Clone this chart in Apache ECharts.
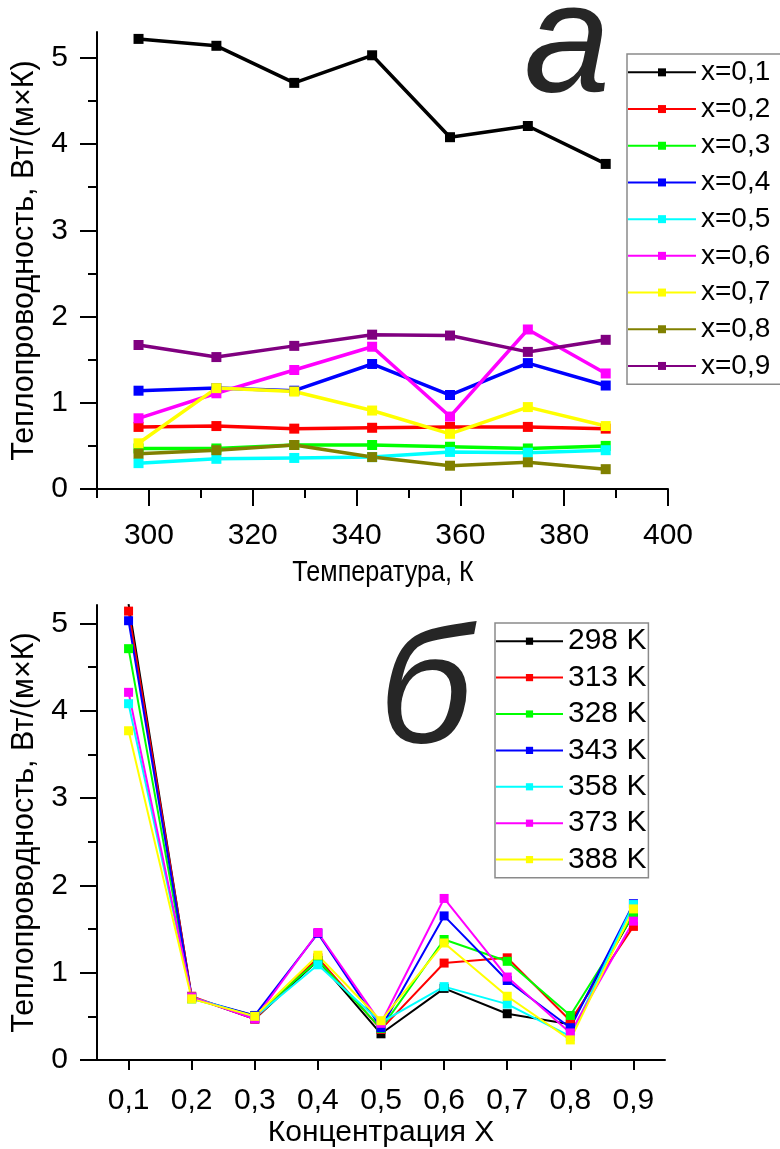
<!DOCTYPE html>
<html>
<head>
<meta charset="utf-8">
<script src="https://cdn.jsdelivr.net/npm/echarts@6/dist/echarts.min.js"></script>
<style>
  html, body { margin: 0; padding: 0; background: #fff; }
  #chart { width: 780px; height: 1149px; }
</style>
</head>
<body>
<div id="chart"></div>
<script>
// Measurement temperatures, K
const temps = [298, 313, 328, 343, 358, 373, 388];
// Concentration labels for the lower panel
const concLabels = ['0,1', '0,2', '0,3', '0,4', '0,5', '0,6', '0,7', '0,8', '0,9'];
// Thermal conductivity, W/(m·K), one array per concentration x (values at each temperature)
const k01 = [5.22, 5.14, 4.71, 5.03, 4.08, 4.21, 3.77];
const k02 = [0.72, 0.73, 0.70, 0.71, 0.72, 0.72, 0.70];
const k03 = [0.47, 0.47, 0.51, 0.51, 0.49, 0.47, 0.50];
const k04 = [1.14, 1.17, 1.14, 1.45, 1.09, 1.46, 1.20];
const k05 = [0.30, 0.35, 0.36, 0.37, 0.43, 0.42, 0.45];
const k06 = [0.82, 1.11, 1.38, 1.65, 0.84, 1.85, 1.34];
const k07 = [0.53, 1.17, 1.13, 0.91, 0.64, 0.95, 0.73];
const k08 = [0.41, 0.45, 0.51, 0.37, 0.27, 0.31, 0.23];
const k09 = [1.67, 1.53, 1.66, 1.79, 1.78, 1.59, 1.73];
// Axis tick values
const tempMajor = [300, 320, 340, 360, 380, 400];
const tempMinor = [290, 310, 330, 350, 370, 390];
const kMajor = [0, 1, 2, 3, 4, 5];
const kMinor = [0.5, 1.5, 2.5, 3.5, 4.5];

const concSeries = [k01, k02, k03, k04, k05, k06, k07, k08, k09];
const colors = ['#000000', '#ff0000', '#00ff00', '#0000ff', '#00ffff', '#ff00ff', '#ffff00', '#808000', '#800080'];

const FONT = 'Liberation Sans, Arial, sans-serif';

const chart = echarts.init(document.getElementById('chart'), null, { renderer: 'canvas' });

const axisLine = { show: true, lineStyle: { color: '#000', width: 2 } };

function majorValueAxis(gridIndex, min, max, majors, extra) {
  return Object.assign({
    type: 'value', gridIndex, min, max,
    axisLine,
    splitLine: { show: false },
    axisTick: { show: true, inside: false, length: 17, lineStyle: { color: '#000', width: 2 }, customValues: majors },
    axisLabel: { show: true, customValues: majors, color: '#000', fontSize: 30, fontFamily: FONT }
  }, extra);
}
function minorValueAxis(gridIndex, min, max, minors, extra) {
  return Object.assign({
    type: 'value', gridIndex, min, max,
    axisLine: { show: false },
    splitLine: { show: false },
    axisTick: { show: true, inside: false, length: 9, lineStyle: { color: '#000', width: 2 }, customValues: minors },
    axisLabel: { show: false }
  }, extra);
}

const series = [];
concSeries.forEach((arr, i) => {
  series.push({
    name: 'x=' + concLabels[i],
    type: 'line',
    xAxisIndex: 0, yAxisIndex: 0,
    data: temps.map((t, j) => [t, arr[j]]),
    symbol: 'rect', symbolSize: 10,
    lineStyle: { color: colors[i], width: 3.5 },
    itemStyle: { color: colors[i] },
    animation: false
  });
});
temps.forEach((t, j) => {
  series.push({
    name: t + ' K',
    type: 'line',
    xAxisIndex: 2, yAxisIndex: 2,
    data: concSeries.map(arr => arr[j]),
    symbol: 'rect', symbolSize: 9,
    lineStyle: { color: colors[j], width: 2 },
    itemStyle: { color: colors[j] },
    animation: false
  });
});

const yName = 'Теплопроводность, Вт/(м×К)';

const option = {
  backgroundColor: '#fff',
  animation: false,
  grid: [
    { left: 97, top: 32, width: 571, height: 457 },
    { left: 97, top: 605, width: 568, height: 457 }
  ],
  xAxis: [
    majorValueAxis(0, 290, 400, tempMajor, {
      position: 'bottom',
      axisLabel: { show: true, customValues: tempMajor, color: '#000', fontSize: 30, fontFamily: FONT, margin: 32 }
    }),
    minorValueAxis(0, 290, 400, tempMinor, { position: 'bottom' }),
    {
      type: 'category', gridIndex: 1, data: concLabels, boundaryGap: true,
      position: 'bottom',
      axisLine,
      axisTick: { show: true, alignWithLabel: true, length: 10, lineStyle: { color: '#000', width: 2 } },
      axisLabel: { color: '#000', fontSize: 30, fontFamily: FONT, margin: 26 },
      splitLine: { show: false },
      name: 'Концентрация Х', nameLocation: 'middle', nameGap: 58,
      nameTextStyle: { color: '#000', fontSize: 30, fontFamily: FONT }
    }
  ],
  yAxis: [
    majorValueAxis(0, 0, 5.3, kMajor, {
      position: 'left',
      name: yName, nameLocation: 'middle', nameGap: 52,
      nameTextStyle: { color: '#000', fontSize: 30.5, fontFamily: FONT },
      axisLabel: { show: true, customValues: kMajor, color: '#000', fontSize: 30, fontFamily: FONT, margin: 29 }
    }),
    minorValueAxis(0, 0, 5.3, kMinor, { position: 'left' }),
    majorValueAxis(1, 0, 5.21, kMajor, {
      position: 'left',
      name: yName, nameLocation: 'middle', nameGap: 52,
      nameTextStyle: { color: '#000', fontSize: 30.5, fontFamily: FONT },
      axisLabel: { show: true, customValues: kMajor, color: '#000', fontSize: 30, fontFamily: FONT, margin: 29 }
    }),
    minorValueAxis(1, 0, 5.21, kMinor, { position: 'left' })
  ],
  legend: [
    {
      data: concLabels.map(c => 'x=' + c),
      orient: 'vertical', left: 627, top: 54,
      itemWidth: 68, itemHeight: 10, itemGap: 0,
      padding: [0, 60, 0, 0],
      borderColor: '#8a8a8a', borderWidth: 1.5,
      textStyle: { color: '#000', fontSize: 28, fontFamily: FONT, lineHeight: 36.7 }
    },
    {
      data: temps.map(t => t + ' K'),
      orient: 'vertical', left: 495, top: 623,
      itemWidth: 67, itemHeight: 9, itemGap: 0,
      padding: [0, 2, 0, 0],
      borderColor: '#8a8a8a', borderWidth: 1.5,
      textStyle: { color: '#000', fontSize: 30, fontFamily: FONT, lineHeight: 36.4 }
    }
  ],
  graphic: [
    {
      // horizontal axis title of the upper panel, slightly condensed
      type: 'text', x: 383, y: 573, scaleX: 0.84, silent: true,
      style: { text: 'Температура, К', font: '30px ' + FONT, fill: '#000', align: 'center', verticalAlign: 'middle' }
    },
    {
      type: 'text', left: 524, top: -30, silent: true,
      style: { text: 'а', font: 'italic 155px ' + FONT, fill: '#262626' }
    },
    {
      type: 'text', left: 379, top: 614, silent: true,
      style: { text: 'б', font: 'italic 165px ' + FONT, fill: '#262626' }
    }
  ],
  series
};

chart.setOption(option);
</script>
</body>
</html>
